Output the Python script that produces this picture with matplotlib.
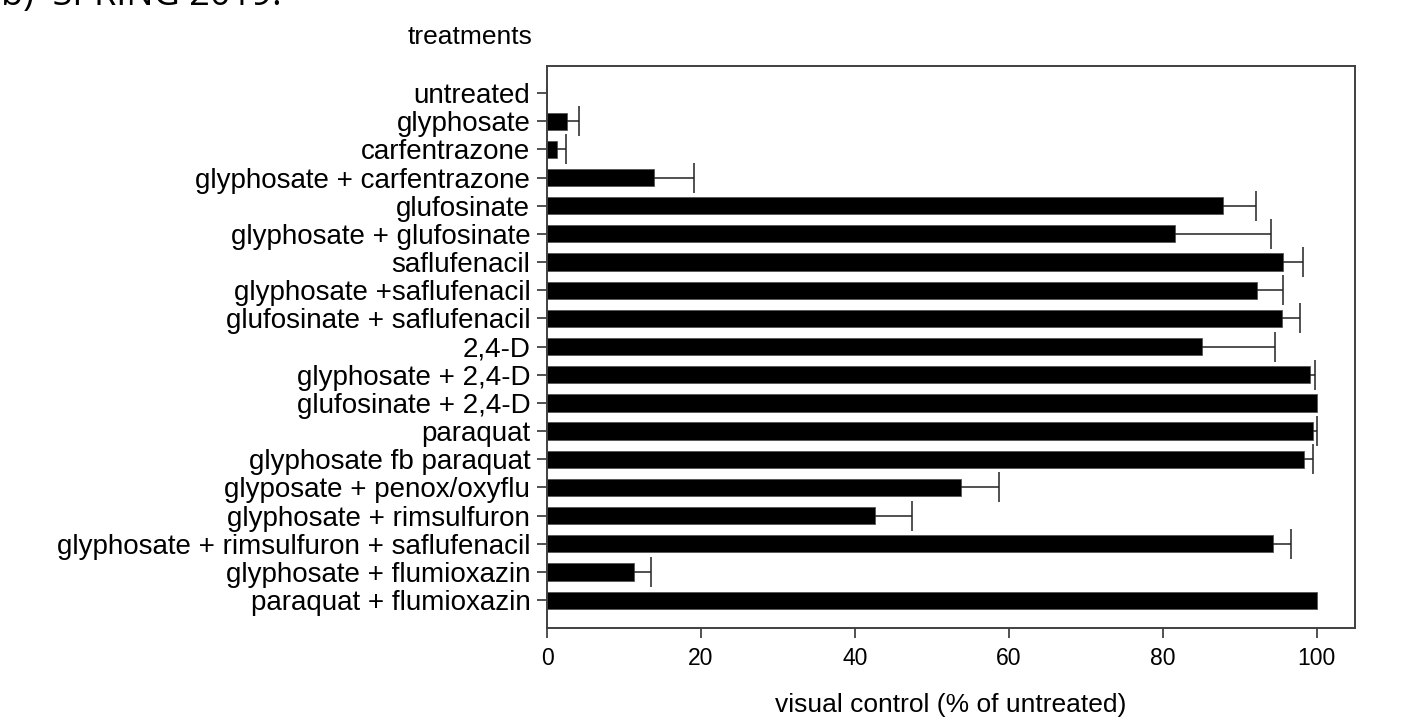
import numpy as np
import matplotlib.pyplot as plt

plt.rcParams['font.family'] = ['Liberation Sans', 'DejaVu Sans']

treatments = [
    'untreated', 'glyphosate', 'carfentrazone', 'glyphosate + carfentrazone',
    'glufosinate', 'glyphosate + glufosinate', 'saflufenacil',
    'glyphosate +saflufenacil', 'glufosinate + saflufenacil', '2,4-D',
    'glyphosate + 2,4-D', 'glufosinate + 2,4-D', 'paraquat',
    'glyphosate fb paraquat', 'glyposate + penox/oxyflu',
    'glyphosate + rimsulfuron', 'glyphosate + rimsulfuron + saflufenacil',
    'glyphosate + flumioxazin', 'paraquat + flumioxazin',
]
control = [0, 2.6, 1.3, 13.9, 87.9, 81.6, 95.7, 92.2, 95.5, 85.1,
           99.1, 100, 99.5, 98.4, 53.8, 42.6, 94.3, 11.3, 100]
upper = [0, 4.2, 2.5, 19.1, 92.1, 94.1, 98.2, 95.6, 97.9, 94.6,
         99.8, 100, 100, 99.6, 58.8, 47.4, 96.7, 13.5, 100]

control = np.array(control)
err = np.array(upper) - control
pos = np.arange(len(treatments))

fig = plt.figure(figsize=(14.09, 7.18), dpi=100)
ax = fig.add_axes([547 / 1409, 1 - 628 / 718, 808 / 1409, 562 / 718])

ax.barh(pos, control, height=0.61, color='black', edgecolor='#555555', linewidth=0.6)
has_err = err > 0
_, caps, _ = ax.errorbar(control[has_err], pos[has_err],
                         xerr=[np.zeros(has_err.sum()), err[has_err]],
                         fmt='none', ecolor='#222222', elinewidth=1.1,
                         capsize=11, capthick=1.1)
caps[0].set_visible(False)  # only the outer cap, like the original

ax.set_yticks(pos)
ax.set_yticklabels(treatments, fontsize=20)
ax.set_ylim(18.99, -0.96)
ax.set_xlim(0, 105)
ax.set_xticks([0, 20, 40, 60, 80, 100])
ax.tick_params(axis='x', labelsize=16.5, length=7, width=1.2, pad=7, color='#333333')
ax.tick_params(axis='y', length=7, width=1.2, pad=5, color='#333333')
for s in ax.spines.values():
    s.set_linewidth(1.4)
    s.set_color('#404040')

ax.set_xlabel('visual control (% of untreated)', fontsize=19, labelpad=16)
fig.text(470 / 1409, 1 - 37 / 718, 'treatments', fontsize=19, ha='center', va='center')
fig.text(1 / 1409, 1 - 5 / 718, 'b)  SPRING 2019:', fontsize=26, ha='left', va='baseline',
         family=['Open Sans', 'DejaVu Sans'])

fig.savefig('out.png', dpi=100)
